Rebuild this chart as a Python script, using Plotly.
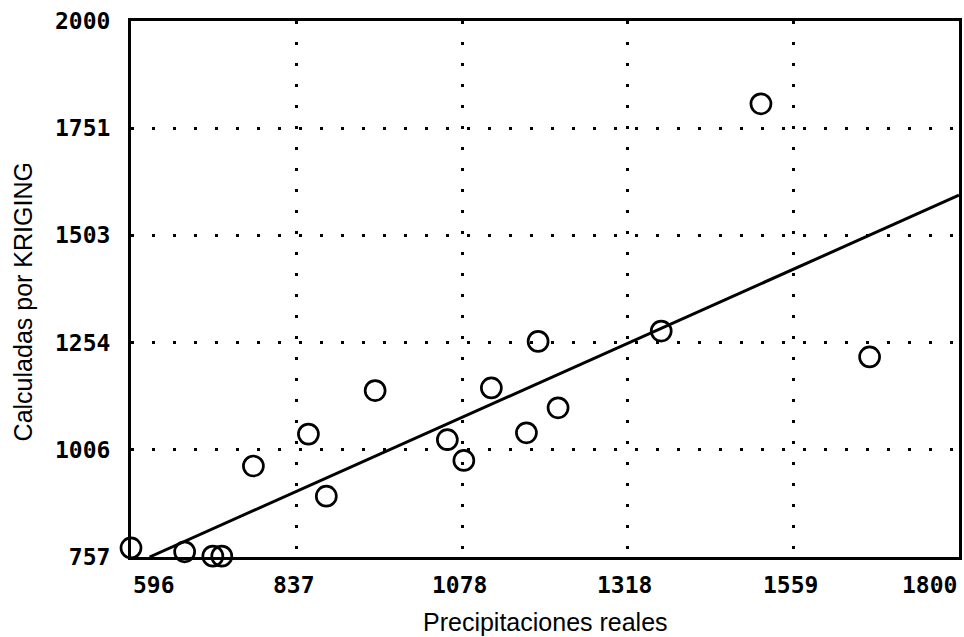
import plotly.graph_objects as go

# Observed (x) vs kriging-estimated (y) precipitation
x_real = [596, 674, 715, 728, 812, 774, 854, 880, 951, 1056, 1080, 1120, 1171, 1188, 1217, 1367, 1512, 1670]
y_krig = [778, 769, 759, 759, 753, 968, 1042, 898, 1143, 1029, 981, 1149, 1045, 1257, 1103, 1281, 1808, 1221]

# Fitted line endpoints
fit_x = [623, 1800]
fit_y = [757, 1596]

x_ticks = [596, 837, 1078, 1318, 1559, 1800]
x_labels = ["596", "837", "1078", "1318", "1559", "1800"]
y_ticks = [757, 1006, 1254, 1503, 1751, 2000]
y_labels = ["757", "1006", "1254", "1503", "1751", "2000"]

tick_font = dict(family="DejaVu Sans Mono", size=23, color="black", weight="bold")
title_font = dict(family="Liberation Sans", size=25, color="black")

fig = go.Figure()
fig.add_trace(go.Scatter(
    x=fit_x, y=fit_y, mode="lines",
    line=dict(color="black", width=3), showlegend=False, hoverinfo="skip"))
fig.add_trace(go.Scatter(
    x=x_real, y=y_krig, mode="markers", cliponaxis=False,
    marker=dict(symbol="circle-open", size=20, color="black", line=dict(width=2.7, color="black")),
    showlegend=False))

annotations = []
n = len(x_ticks)
for i, (v, t) in enumerate(zip(x_ticks, x_labels)):
    anchor = "left" if i == 0 else ("right" if i == n - 1 else "center")
    annotations.append(dict(
        x=v, y=0, xref="x", yref="paper", text=t, showarrow=False,
        xanchor=anchor, yanchor="top", yshift=-13,
        xshift=(0 if i == n - 1 else (0 if i == 0 else -3)),
        font=tick_font))
annotations.append(dict(
    x=0.5, y=-0.121, xref="paper", yref="paper", text="Precipitaciones reales",
    showarrow=False, xanchor="center", yanchor="middle", font=title_font))
annotations.append(dict(
    x=-0.131, y=0.476, xref="paper", yref="paper", text="Calculadas por KRIGING",
    showarrow=False, xanchor="center", yanchor="middle", textangle=-90, font=title_font))

fig.update_layout(
    width=964, height=637,
    margin=dict(l=131, r=2, t=21, b=80),
    paper_bgcolor="white", plot_bgcolor="white",
    annotations=annotations,
    xaxis=dict(
        range=[596, 1800], tickvals=x_ticks, showticklabels=False,
        showgrid=True, gridcolor="black", gridwidth=3, griddash="3px,18px",
        showline=True, linecolor="black", linewidth=3, mirror=True,
        zeroline=False, ticks=""),
    yaxis=dict(
        range=[757, 2000], tickvals=y_ticks, ticktext=y_labels, tickfont=tick_font,
        ticklabelstandoff=13,
        showgrid=True, gridcolor="black", gridwidth=3, griddash="3px,18px",
        showline=True, linecolor="black", linewidth=3, mirror=True,
        zeroline=False, ticks=""),
)

# Remove the browser's default page margin so the figure fills the window exactly.
fig.write_html(
    "out.html",
    config={"displayModeBar": False},
    post_script="document.body.style.margin='0';document.body.style.overflow='hidden';",
)
